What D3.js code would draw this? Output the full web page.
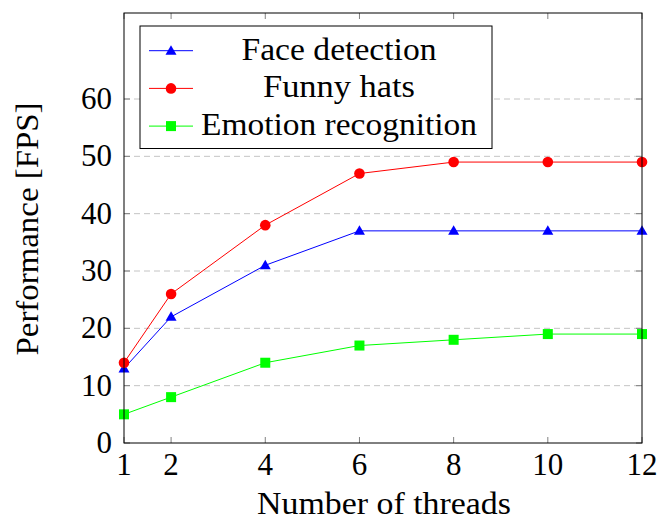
<!DOCTYPE html>
<html>
<head>
<meta charset="utf-8">
<script src="https://cdn.jsdelivr.net/npm/d3@7"></script>
<style>
  body { margin: 0; background: #fff; }
</style>
</head>
<body>
<div class="chart"></div>
<script>
// data
var threads = [1, 2, 4, 6, 8, 10, 12];
var faceDetection = [13, 22, 31, 37, 37, 37, 37];
var funnyHats = [14, 26, 38, 47, 49, 49, 49];
var emotionRecognition = [5, 8, 14, 17, 18, 19, 19];
var xTicks = [1, 2, 4, 6, 8, 10, 12];
var yTicks = [0, 10, 20, 30, 40, 50, 60];

var series = [
    {name: "Face detection", values: faceDetection, color: "#0000ff", mark: "triangle", len: 195},
    {name: "Funny hats", values: funnyHats, color: "#ff0000", mark: "circle", len: 152},
    {name: "Emotion recognition", values: emotionRecognition, color: "#00ff00", mark: "square", len: 276}
];

var w = 662, h = 521;
var pLeft = 124, pRight = 642, pTop = 13, pBottom = 443;
var fontFam = "'Liberation Serif', serif";
var fs = "31px";

var svg = d3.select(".chart").append("svg")
    .attr("width", w)
    .attr("height", h)
    .style("font-family", fontFam);

var x = d3.scaleLinear().domain([1, 12]).range([pLeft, pRight]);
var y = d3.scaleLinear().domain([0, 75]).range([pBottom, pTop]);

// grid lines
svg.append("g").selectAll("line")
    .data(yTicks.filter(function(d) { return d > 0; }))
    .enter().append("line")
    .attr("x1", pLeft).attr("x2", pRight)
    .attr("y1", function(d) { return y(d); })
    .attr("y2", function(d) { return y(d); })
    .attr("stroke", "#c4c4c4")
    .attr("stroke-width", 1)
    .attr("stroke-dasharray", "6,4");

// ticks on all four sides, pointing inward
var tickLen = 6;
var tk = svg.append("g").attr("stroke", "#808080").attr("stroke-width", 1);
xTicks.forEach(function(t) {
    tk.append("line").attr("x1", x(t)).attr("x2", x(t)).attr("y1", pBottom).attr("y2", pBottom - tickLen);
    tk.append("line").attr("x1", x(t)).attr("x2", x(t)).attr("y1", pTop).attr("y2", pTop + tickLen);
});
yTicks.forEach(function(t) {
    tk.append("line").attr("y1", y(t)).attr("y2", y(t)).attr("x1", pLeft).attr("x2", pLeft + tickLen);
    tk.append("line").attr("y1", y(t)).attr("y2", y(t)).attr("x1", pRight).attr("x2", pRight - tickLen);
});

// tick labels
svg.append("g").selectAll("text")
    .data(xTicks).enter().append("text")
    .attr("x", function(d) { return x(d); })
    .attr("y", 475)
    .attr("text-anchor", "middle")
    .style("font-size", fs)
    .text(function(d) { return d; });

svg.append("g").selectAll("text")
    .data(yTicks).enter().append("text")
    .attr("x", 112)
    .attr("y", function(d) { return y(d) + 10; })
    .attr("text-anchor", "end")
    .style("font-size", fs)
    .text(function(d) { return d; });

// axis labels
svg.append("text")
    .attr("x", 384)
    .attr("y", 514)
    .attr("text-anchor", "middle")
    .attr("textLength", 254)
    .attr("lengthAdjust", "spacingAndGlyphs")
    .style("font-size", fs)
    .text("Number of threads");

svg.append("text")
    .attr("transform", "translate(38,229) rotate(-90)")
    .attr("text-anchor", "middle")
    .attr("textLength", 253)
    .attr("lengthAdjust", "spacingAndGlyphs")
    .style("font-size", fs)
    .text("Performance [FPS]");

// markers
function drawMark(g, kind, cx, cy, color) {
    if (kind === "circle") {
        g.append("circle").attr("cx", cx).attr("cy", cy).attr("r", 5.3).attr("fill", color);
    } else if (kind === "square") {
        g.append("rect").attr("x", cx - 5).attr("y", cy - 5).attr("width", 10).attr("height", 10).attr("fill", color);
    } else {
        g.append("path")
            .attr("d", "M" + cx + "," + (cy - 5.5) + "L" + (cx + 5.5) + "," + (cy + 4) + "L" + (cx - 5.5) + "," + (cy + 4) + "Z")
            .attr("fill", color);
    }
}

var line = d3.line()
    .x(function(d, i) { return x(threads[i]); })
    .y(function(d) { return y(d); });

series.forEach(function(s) {
    var g = svg.append("g");
    g.append("path")
        .attr("d", line(s.values))
        .attr("fill", "none")
        .attr("stroke", s.color)
        .attr("stroke-width", 1);
    s.values.forEach(function(v, i) {
        drawMark(g, s.mark, x(threads[i]), y(v), s.color);
    });
});

// frame
svg.append("rect")
    .attr("x", pLeft).attr("y", pTop)
    .attr("width", pRight - pLeft).attr("height", pBottom - pTop)
    .attr("fill", "none")
    .attr("stroke", "#000")
    .attr("stroke-width", 1);

// legend
var lg = svg.append("g");
lg.append("rect")
    .attr("x", 140).attr("y", 26)
    .attr("width", 352).attr("height", 122.5)
    .attr("fill", "#fff")
    .attr("stroke", "#000")
    .attr("stroke-width", 1);
series.forEach(function(s, i) {
    var ly = 50.7 + i * 37.7;
    lg.append("line")
        .attr("x1", 149).attr("x2", 193)
        .attr("y1", ly).attr("y2", ly)
        .attr("stroke", s.color).attr("stroke-width", 1);
    drawMark(lg, s.mark, 171, ly, s.color);
    lg.append("text")
        .attr("x", 339)
        .attr("y", ly + 9)
        .attr("text-anchor", "middle")
        .attr("textLength", s.len)
        .attr("lengthAdjust", "spacingAndGlyphs")
        .style("font-size", fs)
        .text(s.name);
});
</script>
</body>
</html>
